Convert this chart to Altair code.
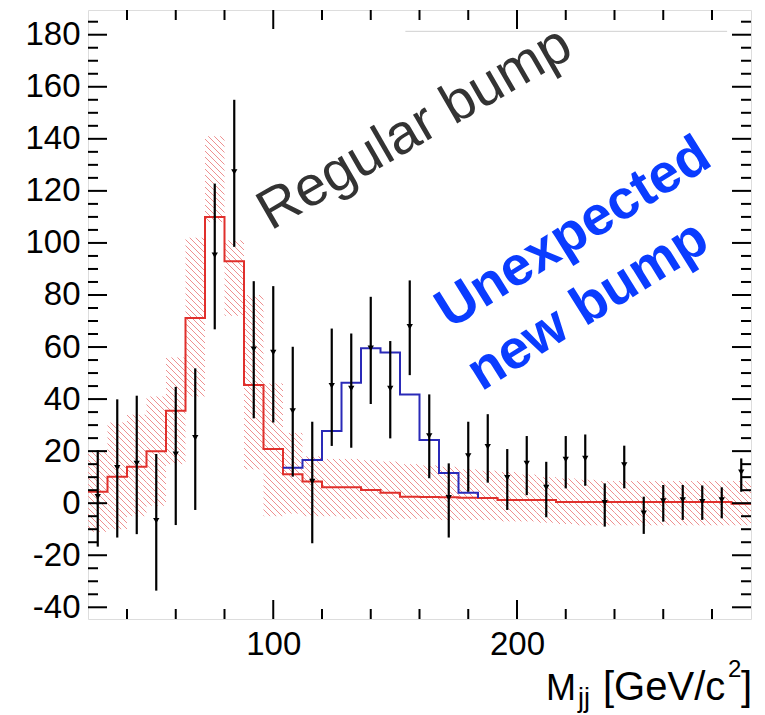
import math
import altair as alt
import pandas as pd

# ---------------- data ----------------
bin_edges = list(range(24, 297, 8))          # 34 bins of 8 GeV
bin_centers = [e + 4 for e in bin_edges[:-1]]

background = [4.4, 10.2, 14.0, 20.0, 35.5, 71.2, 110, 93, 45.4, 20.8, 11.1, 8.3,
              6.1, 6.1, 5.1, 4.0, 2.5, 2.4, 2.3, 2.1, 2.0, 1.2, 1.2, 1.2, 0.5, 0.5,
              0.5, 0.5, 0.5, 0.5, 0.5, 0.5, 0.5, -0.2]
band_low = [-11, -10, -5, -1, 15, 41, 108, 72, 13, -5, -4, -5, -5, -6, -6, -6, -6,
            -6, -6.5, -6.5, -6.5, -7, -7, -7.5, -8, -8.5, -8.5, -8.5, -8.5, -8.5,
            -8.5, -8.5, -8.5, -8.5]
band_high = [20, 31, 34, 41, 56, 102, 141, 101, 80, 46, 27, 18, 17, 17, 16.5, 16,
             15, 14.5, 14, 13, 12.5, 12, 11, 10, 9.5, 9, 8.5, 8.5, 8.5, 8.5, 8.5,
             8.5, 8.5, 8.5]

signal_edges = [104, 112, 120, 128, 136, 144, 152, 160, 168, 176, 184]
signal_total = [13.6, 16.6, 27.7, 46.3, 59.5, 57.9, 41.8, 24.3, 11.6, 4.0]

data_value = [2.5, 13.6, 15.3, -6.7, 18.8, 25.1, 95.3, 127.3, 59.2, 57.9, 35.4, 8.3,
              45.1, 44.1, 59.5, 44.1, 67.8, 25.8, 2.1, 18.1, 21.7, 9.8, 15.3, 6.0,
              16.8, 17.2, 0.2, 14.7, -3.9, 0.8, 1.2, 0.6, 1.2, 11.9]
data_high = [20.4, 39.9, 41.3, 18.9, 44.7, 51.8, 122.8, 155, 85.3, 83.4, 60.1, 31.3,
             67.1, 65.2, 79.3, 62.3, 85.6, 41.8, 15.3, 31.3, 34.2, 20.8, 25.8, 15.9,
             25.8, 26.4, 7.6, 22.1, 2.5, 7, 7, 6.8, 6.1, 17.2]
data_low = [-16.7, -13.2, -11.9, -33.6, -8.4, -2.6, 66.8, 98.5, 32.6, 31, 10.2, -15.4,
            22, 21.3, 38.1, 24.9, 49.2, 9.6, -13.2, 4.4, 7.9, -2.6, 3.1, -5.4, 5.7,
            6.7, -9, 5.7, -11.8, -7.1, -6.4, -6.4, -5.8, 4.4]

y_major = list(range(-40, 181, 20))
y_minor = [v for v in range(-40, 190, 5) if v % 20 != 0]
x_major = [100, 200]
x_minor = [v for v in range(40, 296, 20) if v % 100 != 0]

# ---------------- layout ----------------
W, H = 663, 609
XDOM = [24, 296]
YDOM = [-44.5, 189.5]
FONT = "Liberation Sans"

xs = alt.Scale(domain=XDOM, nice=False, zero=False)
ys = alt.Scale(domain=YDOM, nice=False, zero=False)
XAX = alt.Axis(values=x_major, ticks=False, domain=False, grid=False,
               labelFontSize=33, labelFont=FONT, labelColor="black",
               labelPadding=9, title=None, labelFlush=False,
               labelExpr="'' + datum.value")
YAX = alt.Axis(values=y_major, ticks=False, domain=False, grid=False,
               labelFontSize=33, labelFont=FONT, labelColor="black",
               labelPadding=8, title=None, labelFlush=False,
               labelExpr="'' + datum.value")


def X(f):
    return alt.X(f, scale=xs, axis=XAX)


def Y(f):
    return alt.Y(f, scale=ys, axis=YAX)


# pixel <-> data helpers (used only to orient the hatch lines at 45 degrees)
KX = W / (XDOM[1] - XDOM[0])
KY = H / (YDOM[1] - YDOM[0])


def px(x):
    return (x - XDOM[0]) * KX


def py(y):
    return (YDOM[1] - y) * KY


def dx(p):
    return XDOM[0] + p / KX


def dy(p):
    return YDOM[1] - p / KY


# hatch segments ("\\" direction) clipped to each bin of the band
HATCH_STEP = 6.0
segs = {"x": [], "y": [], "x2": [], "y2": []}
for i in range(len(band_low)):
    x0, x1 = px(bin_edges[i]), px(bin_edges[i + 1])
    ytop, ybot = py(band_high[i]), py(band_low[i])
    kmin = math.floor((ytop - x1) / HATCH_STEP)
    kmax = math.ceil((ybot - x0) / HATCH_STEP)
    for k in range(kmin, kmax + 1):
        off = k * HATCH_STEP          # line: ypix = xpix + off
        a = max(x0, ytop - off)
        b = min(x1, ybot - off)
        if b - a > 0.3:
            segs["x"].append(dx(a))
            segs["y"].append(dy(a + off))
            segs["x2"].append(dx(b))
            segs["y2"].append(dy(b + off))
hatch_df = pd.DataFrame(segs)

bkg_df = pd.DataFrame({"x": bin_edges, "y": background + [background[-1]]})
sig_df = pd.DataFrame({"x": signal_edges + [signal_edges[-1]],
                       "y": signal_total + [signal_total[-1], background[20]]})
pts_df = pd.DataFrame({"x": bin_centers, "y": data_value, "lo": data_low, "hi": data_high})

hatch = alt.Chart(hatch_df).mark_rule(color="#ee9090", strokeWidth=1).encode(
    x=X("x:Q"), y=Y("y:Q"), x2="x2:Q", y2="y2:Q")

bkg = alt.Chart(bkg_df).mark_line(interpolate="step-after", color="#e0302c",
                                  strokeWidth=2).encode(x=X("x:Q"), y=Y("y:Q"))
sig = alt.Chart(sig_df).mark_line(interpolate="step-after", color="#2a2ab8",
                                  strokeWidth=2).encode(x=X("x:Q"), y=Y("y:Q"))

err = alt.Chart(pts_df).mark_rule(color="black", strokeWidth=2.2).encode(
    x=X("x:Q"), y=Y("lo:Q"), y2="hi:Q")
pts = alt.Chart(pts_df).mark_point(shape="triangle-down", filled=True, color="black",
                                   size=40, opacity=1).encode(x=X("x:Q"), y=Y("y:Q"))


def yticks(vals, length):
    d = pd.DataFrame({"v": vals})
    left = alt.Chart(d).mark_rule(color="black", strokeWidth=2).encode(
        y=Y("v:Q"), x=alt.value(0), x2=alt.value(length))
    right = alt.Chart(d).mark_rule(color="black", strokeWidth=2).encode(
        y=Y("v:Q"), x=alt.value(W), x2=alt.value(W - length))
    return [left, right]


def xticks(vals, length):
    d = pd.DataFrame({"v": vals})
    bottom = alt.Chart(d).mark_rule(color="black", strokeWidth=2).encode(
        x=X("v:Q"), y=alt.value(H), y2=alt.value(H - length))
    top = alt.Chart(d).mark_rule(color="black", strokeWidth=2).encode(
        x=X("v:Q"), y=alt.value(0), y2=alt.value(length))
    return [bottom, top]


ticks = yticks(y_major, 19) + yticks(y_minor, 10) + xticks(x_major, 19) + xticks(x_minor, 10)

# faint line near the top
faint = alt.Chart(pd.DataFrame({"x": [154.2], "x2": [286.2], "y": [181.3]})).mark_rule(
    color="#d0d0d0", strokeWidth=1).encode(x=X("x:Q"), x2="x2:Q", y=Y("y:Q"))


# annotations
def note(txt, x, y, angle, color, size, weight):
    return alt.Chart(pd.DataFrame({"x": [x], "y": [y], "t": [txt]})).mark_text(
        angle=angle, color=color, fontSize=size, fontWeight=weight, font=FONT,
        align="center", baseline="middle").encode(x=X("x:Q"), y=Y("y:Q"), text="t:N")


notes = [
    note("Regular bump", 158.0, 144.0, 330, "#333333", 56, "normal"),
    note("Unexpected", 223, 104, 328, "#0a3cff", 55, "bold"),
    note("new bump", 229, 76, 328, "#0a3cff", 55, "bold"),
]


# axis title pieces: M_jj [GeV/c^2]
def piece(txt, px_, py_, size):
    return alt.Chart(pd.DataFrame({"t": [txt]})).mark_text(
        font=FONT, fontSize=size, color="black", align="left",
        baseline="alphabetic").encode(x=alt.value(px_), y=alt.value(py_), text="t:N")


title = [
    piece("M", 458, 690, 36),
    piece("jj", 490, 697, 27),
    piece("[GeV/c", 515, 690, 40),
    piece("2", 640, 667, 24),
    piece("]", 653, 690, 40),
]

chart = alt.layer(hatch, bkg, sig, err, pts, faint, *ticks, *notes, *title).properties(
    width=W, height=H,
    autosize=alt.AutoSizeParams(type="none"),
    padding={"left": 88, "top": 10, "right": 14, "bottom": 96},
).configure_view(stroke="black", strokeWidth=2).configure(background="white")

chart.save("out.html", embed_options={"renderer": "svg", "actions": False})
